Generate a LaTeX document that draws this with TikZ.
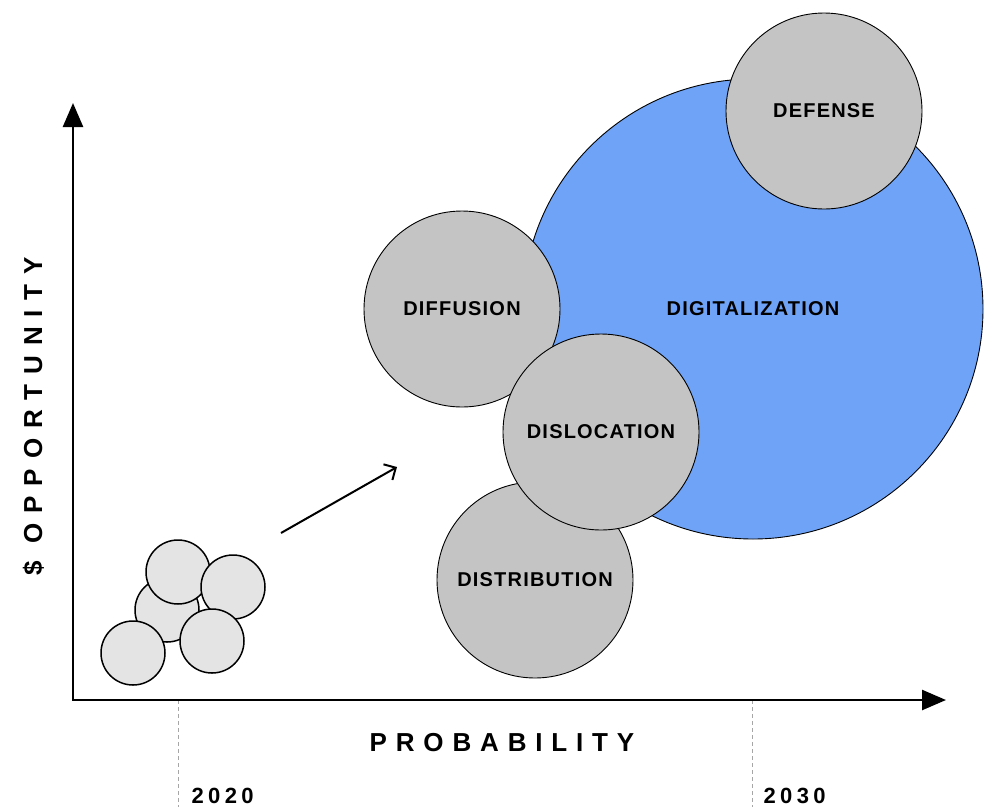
\documentclass[tikz,border=0pt]{standalone}
\usepackage{fontspec}
\setmainfont{Liberation Sans}
\newfontfamily\circfont[LetterSpace=6]{Liberation Sans}
\newfontfamily\axisfont[LetterSpace=34]{Liberation Sans}
\newfontfamily\yaxisfont[LetterSpace=38]{Liberation Sans}
\newfontfamily\yearfont[LetterSpace=20]{Liberation Sans}
\usetikzlibrary{arrows.meta}
\definecolor{bigblue}{RGB}{110,163,247}
\definecolor{biggray}{RGB}{196,196,196}
\definecolor{smallgray}{RGB}{228,228,228}
\begin{document}
\begin{tikzpicture}[x=1pt,y=-1pt,
  bigc/.style={circle, draw=black, line width=0.9pt, fill=biggray, minimum size=196pt, inner sep=0pt,
    font=\circfont\fontsize{20}{22}\selectfont\bfseries},
  bluec/.style={bigc, fill=bigblue, minimum size=460pt},
  smallc/.style={circle, draw=black, line width=1.5pt, fill=smallgray, minimum size=64pt, inner sep=0pt},
  axisline/.style={line width=2.5pt, line join=miter,
    arrows={Triangle[length=24pt,width=20pt]-Triangle[length=24pt,width=20pt]}},
  guide/.style={gray!70, line width=0.8pt, dash pattern=on 4pt off 3pt},
  axislabel/.style={font=\axisfont\fontsize{26}{26}\selectfont\bfseries},
  yaxislabel/.style={font=\yaxisfont\fontsize{26}{26}\selectfont\bfseries},
  yearlabel/.style={font=\yearfont\fontsize{22}{22}\selectfont\bfseries},
  trend/.style={line width=2pt, -{Straight Barb[length=9pt,width=18pt]}}
]
\useasboundingbox (0,0) rectangle (991,807);

% guide lines
\coordinate (t20) at (178,700);
\coordinate (b20) at (178,807);
\coordinate (t30) at (752,700);
\coordinate (b30) at (752,807);
\draw[guide] (t20) -- (b20);
\draw[guide] (t30) -- (b30);

% axes
\coordinate (O) at (73,700);
\coordinate (ytip) at (73,103);
\coordinate (xtip) at (946,700);
\draw[axisline] (ytip) -- (O) -- (xtip);

% big circles
\node[bluec] (dig) at (753,309) {DIGITALIZATION};
\node[bigc] (def) at (824,111) {DEFENSE};
\node[bigc] (dif) at (462,309) {DIFFUSION};
\node[bigc] (dis) at (535,580) {DISTRIBUTION};
\node[bigc] (dsl) at (601,432) {DISLOCATION};

% small circles
\node[smallc] (s1) at (167,610) {};
\node[smallc] (s2) at (178,572) {};
\node[smallc] (s3) at (233,587) {};
\node[smallc] (s4) at (133,653) {};
\node[smallc] (s5) at (212,641) {};

% trend arrow
\coordinate (a1) at (281,533);
\coordinate (a2) at (397,467);
\draw[trend] (a1) -- (a2);

% labels
\node[axislabel, anchor=base] (px) at (502,751) {PROBABILITY};
\node[yaxislabel, anchor=base, rotate=90] (py) at (42,416) {\$ OPPORTUNITY};
\node[yearlabel, anchor=base west] (y20) at (188,803) {2020};
\node[yearlabel, anchor=base west] (y30) at (760,803) {2030};
\end{tikzpicture}
\end{document}
